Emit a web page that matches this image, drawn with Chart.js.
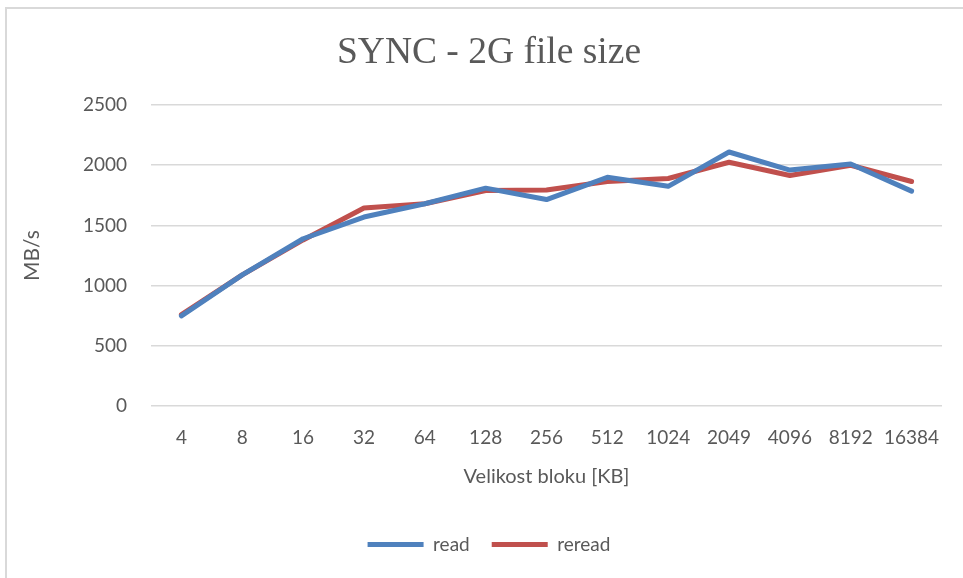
<!DOCTYPE html>
<html>
<head>
<meta charset="utf-8">
<script src="https://cdn.jsdelivr.net/npm/chart.js@4"></script>
<style>
  html, body { margin: 0; padding: 0; background: #fff; overflow: hidden; }
  #frame {
    position: absolute; left: 5px; top: 7px; width: 1020px; height: 620px;
    border-left: 2px solid #d9d9d9; border-top: 2px solid #d9d9d9;
  }
  #wrap { position: absolute; left: 0; top: 0; width: 963px; height: 578px; }
</style>
</head>
<body>
<div id="frame"></div>
<div id="wrap"><canvas id="chart" width="963" height="578"></canvas></div>
<script>
// block sizes in KB
const blockSizes = ['4', '8', '16', '32', '64', '128', '256', '512', '1024', '2049', '4096', '8192', '16384'];
// throughput MB/s
const readValues = [750, 1090, 1390, 1570, 1680, 1810, 1715, 1900, 1825, 2110, 1960, 2010, 1785];
const rereadValues = [760, 1090, 1380, 1645, 1680, 1790, 1795, 1865, 1890, 2025, 1915, 2000, 1865];
const yTicks = [0, 500, 1000, 1500, 2000, 2500];

const textColor = '#595959';
const tickFont = { family: 'Lato', size: 19 };

const ctx = document.getElementById('chart').getContext('2d');

new Chart(ctx, {
  type: 'line',
  data: {
    labels: blockSizes,
    datasets: [
      {
        label: 'read',
        data: readValues,
        borderColor: '#4f81bd',
        backgroundColor: '#4f81bd',
        borderWidth: 5,
        borderCapStyle: 'round',
        borderJoinStyle: 'round',
        pointRadius: 0,
        tension: 0
      },
      {
        label: 'reread',
        data: rereadValues,
        borderColor: '#c0504d',
        backgroundColor: '#c0504d',
        borderWidth: 5,
        borderCapStyle: 'round',
        borderJoinStyle: 'round',
        pointRadius: 0,
        tension: 0
      }
    ]
  },
  options: {
    responsive: false,
    animation: false,
    layout: { padding: { left: 36, right: 21, top: 31, bottom: 14 } },
    scales: {
      x: {
        offset: true,
        grid: { display: false },
        border: { display: false },
        ticks: { color: textColor, font: tickFont, maxRotation: 0, autoSkip: false, padding: 12 },
        title: {
          display: true,
          text: 'Velikost bloku [KB]',
          color: textColor,
          font: { family: 'Lato', size: 20 },
          padding: { top: 4, bottom: 24 }
        }
      },
      y: {
        min: 0,
        max: 2500,
        afterBuildTicks: scale => { scale.ticks = yTicks.map(v => ({ value: v })); },
        afterFit: scale => { scale.width = 115; },
        grid: { color: '#d9d9d9', lineWidth: 1.5, drawTicks: false },
        border: { display: false },
        ticks: { color: textColor, font: tickFont, padding: 24, callback: v => String(v) },
        title: {
          display: true,
          text: 'MB/s',
          color: textColor,
          font: { family: 'Lato', size: 21 },
          padding: { top: -16, bottom: 0 }
        }
      }
    },
    plugins: {
      title: {
        display: true,
        text: 'SYNC - 2G file size',
        color: textColor,
        font: { family: 'Liberation Serif', size: 37.5, weight: 'normal' },
        padding: { top: 0, bottom: 29 }
      },
      legend: {
        position: 'bottom',
        labels: {
          usePointStyle: true,
          pointStyle: 'line',
          pointStyleWidth: 56,
          color: textColor,
          font: { family: 'Lato', size: 19 },
          padding: 22
        }
      },
      tooltip: { enabled: false }
    }
  }
});
</script>
</body>
</html>
